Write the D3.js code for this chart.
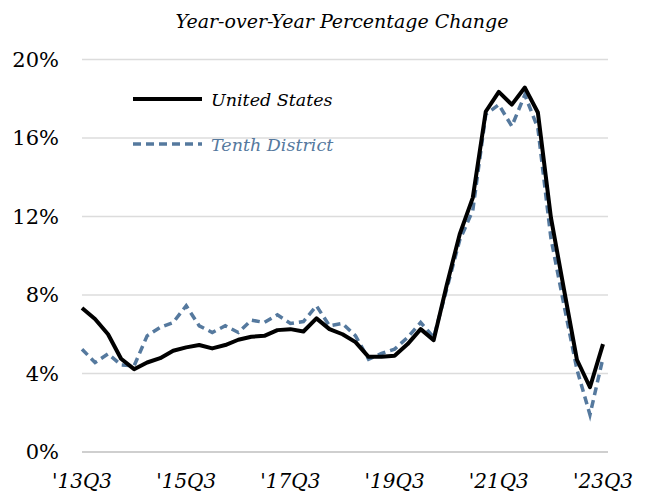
<!DOCTYPE html>
<html lang="en">
<head>
  <meta charset="UTF-8">
  <title>Year-over-Year Percentage Change</title>
  <script src="https://d3js.org/d3.v7.min.js"></script>
  <style>
    body { margin: 0; background: #fff; }
    svg { display: block; }
  </style>
</head>
<body>
<svg width="645" height="500"></svg>
<script>
// quarters from 2013Q3 to 2023Q3
const quarters = [
  '2013Q3','2013Q4','2014Q1','2014Q2','2014Q3','2014Q4','2015Q1','2015Q2','2015Q3','2015Q4',
  '2016Q1','2016Q2','2016Q3','2016Q4','2017Q1','2017Q2','2017Q3','2017Q4','2018Q1','2018Q2',
  '2018Q3','2018Q4','2019Q1','2019Q2','2019Q3','2019Q4','2020Q1','2020Q2','2020Q3','2020Q4',
  '2021Q1','2021Q2','2021Q3','2021Q4','2022Q1','2022Q2','2022Q3','2022Q4','2023Q1','2023Q2',
  '2023Q3'
];

const unitedStates = [
  7.34, 6.78, 6.0, 4.75, 4.22, 4.56, 4.78, 5.16, 5.33, 5.45,
  5.28, 5.45, 5.72, 5.87, 5.92, 6.21, 6.26, 6.14, 6.81, 6.26,
  6.0, 5.6, 4.85, 4.85, 4.9, 5.5, 6.26, 5.7, 8.5, 11.1,
  12.95, 17.35, 18.35, 17.7, 18.57, 17.3, 11.95, 8.3, 4.7, 3.3,
  5.5
];

const tenthDistrict = [
  5.24, 4.56, 5.0, 4.44, 4.39, 5.92, 6.35, 6.6, 7.45, 6.43,
  6.09, 6.43, 6.09, 6.72, 6.6, 6.99, 6.55, 6.65, 7.45, 6.43,
  6.55, 5.92, 4.73, 5.02, 5.24, 5.84, 6.6, 5.84, 8.3, 10.8,
  12.3, 17.2, 17.7, 16.6, 18.2, 16.5, 10.9, 7.5, 4.2, 1.9,
  4.8
];

const xTicks = ['2013Q3', '2015Q3', '2017Q3', '2019Q3', '2021Q3', '2023Q3'];
const xTickLabels = ["'13Q3", "'15Q3", "'17Q3", "'19Q3", "'21Q3", "'23Q3"];
const yTicks = [0, 4, 8, 12, 16, 20];

const blue = '#55799e';
const serif = 'DejaVu Serif';

const svg = d3.select('svg')
  .attr('font-family', serif);

const x = d3.scalePoint().domain(quarters).range([82, 603]);
const y = d3.scaleLinear().domain([0, 20]).range([452, 59.5]);

// gridlines
svg.append('g')
  .selectAll('line')
  .data(yTicks)
  .enter().append('line')
  .attr('x1', 82)
  .attr('x2', 608)
  .attr('y1', d => y(d))
  .attr('y2', d => y(d))
  .attr('stroke', d => d === 0 ? '#bfbfbf' : '#dcdcdc')
  .attr('stroke-width', 1.5);

// y labels
svg.append('g')
  .selectAll('text')
  .data(yTicks)
  .enter().append('text')
  .attr('x', 59)
  .attr('y', d => y(d))
  .attr('dy', '0.35em')
  .attr('text-anchor', 'end')
  .attr('font-family', serif)
  .attr('font-size', 21)
  .text(d => d + '%');

// x labels
svg.append('g')
  .selectAll('text')
  .data(xTicks)
  .enter().append('text')
  .attr('x', d => x(d))
  .attr('y', 488)
  .attr('text-anchor', 'middle')
  .attr('font-family', serif)
  .attr('font-style', 'italic')
  .attr('font-size', 20)
  .text((d, i) => xTickLabels[i]);

const line = d3.line()
  .x((d, i) => x(quarters[i]))
  .y(d => y(d));

svg.append('path')
  .datum(tenthDistrict)
  .attr('d', line)
  .attr('fill', 'none')
  .attr('stroke', blue)
  .attr('stroke-width', 3.5)
  .attr('stroke-dasharray', '8,5');

svg.append('path')
  .datum(unitedStates)
  .attr('d', line)
  .attr('fill', 'none')
  .attr('stroke', '#000')
  .attr('stroke-width', 4)
  .attr('stroke-linejoin', 'round');

// title
svg.append('text')
  .attr('x', 342)
  .attr('y', 28)
  .attr('text-anchor', 'middle')
  .attr('font-family', serif)
  .attr('font-style', 'italic')
  .attr('font-size', 19)
  .text('Year-over-Year Percentage Change');

// legend
const legend = svg.append('g');
legend.append('line')
  .attr('x1', 133).attr('x2', 202)
  .attr('y1', 99).attr('y2', 99)
  .attr('stroke', '#000').attr('stroke-width', 4);
legend.append('text')
  .attr('x', 211).attr('y', 106)
  .attr('font-family', serif)
  .attr('font-style', 'italic')
  .attr('font-size', 17.5)
  .text('United States');
legend.append('line')
  .attr('x1', 133).attr('x2', 202)
  .attr('y1', 144).attr('y2', 144)
  .attr('stroke', blue).attr('stroke-width', 3.5)
  .attr('stroke-dasharray', '8,5');
legend.append('text')
  .attr('x', 211).attr('y', 151)
  .attr('font-family', serif)
  .attr('font-style', 'italic')
  .attr('font-size', 17.5)
  .attr('fill', blue)
  .text('Tenth District');
</script>
</body>
</html>
